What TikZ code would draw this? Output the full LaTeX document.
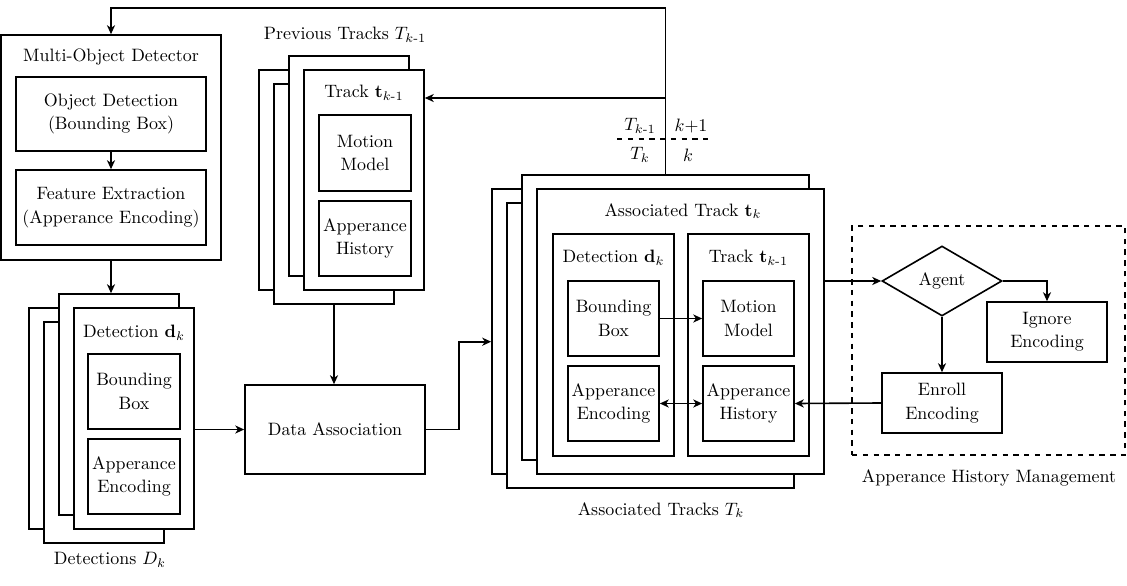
\documentclass[tikz,border=0pt]{standalone}
\usepackage{amsmath}
\usetikzlibrary{shapes.geometric,arrows.meta}

\begin{document}
\begin{tikzpicture}[x=0.0196cm, y=-0.0196cm, line width=0.9pt,
  >={Stealth[length=5pt,width=4.5pt,inset=1.5pt]},
  box/.style 2 args={draw, fill=white, align=center, inner sep=1pt,
    font=\setlength{\baselineskip}{13pt},
    minimum width=#1*0.0196cm, minimum height=#2*0.0196cm}]
\useasboundingbox (0,0) rectangle (1127,585);

\node[box={220}{225}] (mod) at (111,147.5) {};
\node (modtitle) at (111,57) {Multi-Object Detector};
\node[box={190}{74}] (objdet) at (111,114) {Object Detection\\(Bounding Box)};
\node[box={190}{75}] (featex) at (111,207.5) {Feature Extraction\\(Apperance Encoding)};
\draw[->] (objdet) -- (featex);

\node[box={120}{221}] (det1) at (89,418.5) {};
\node[box={120}{221}] (det2) at (104,432.5) {};
\node[box={120}{221}] (det3) at (119,404.5) {};
\node[box={120}{221}] (det) at (134,418.5) {};
\node (dettitle) at (134,333) {Detection $\mathbf{d}_k$};
\node[box={92}{75}] (dbox) at (134,391.5) {Bounding\\Box};
\node[box={92}{75}] (denc) at (134,476.5) {Apperance\\Encoding};
\node (detlabel) at (110,560) {Detections $D_k$};

\node (prevlabel) at (345,35) {Previous Tracks $T_{k\text{-}1}$};
\node[box={120}{220}] (prev1) at (319,180) {};
\node[box={120}{220}] (prev2) at (334,194) {};
\node[box={120}{220}] (prev3) at (349,166) {};
\node[box={120}{220}] (prev) at (364,180) {};
\node (prevtitle) at (364,93) {Track $\mathbf{t}_{k\text{-}1}$};
\node[box={92}{76}] (pmotion) at (365,153) {Motion\\Model};
\node[box={92}{75}] (phist) at (365,238.5) {Apperance\\History};

\node[box={180}{89}] (assoc) at (335,429.5) {Data Association};

\node[box={287}{285}] (asc1) at (635.5,331.5) {};
\node[box={287}{285}] (asc2) at (650.5,345.5) {};
\node[box={287}{285}] (asc3) at (665.5,317.5) {};
\node[box={287}{285}] (asc) at (680.5,331.5) {};
\node (asctitle) at (683,211) {Associated Track $\mathbf{t}_k$};
\node[box={121}{222}] (adet) at (613.5,345) {};
\node (adettitle) at (613.5,258) {Detection $\mathbf{d}_k$};
\node[box={121}{222}] (atrk) at (748.5,345) {};
\node (atrktitle) at (748.5,258) {Track $\mathbf{t}_{k\text{-}1}$};
\node[box={91}{75}] (abox) at (613.5,318.5) {Bounding\\Box};
\node[box={91}{75}] (aenc) at (613.5,403.5) {Apperance\\Encoding};
\node[box={91}{75}] (amotion) at (748.5,318.5) {Motion\\Model};
\node[box={91}{75}] (ahist) at (748.5,403.5) {Apperance\\History};
\node (asclabel) at (661,510) {Associated Tracks $T_k$};

\node[draw, dashed, minimum width=273*0.0196cm, minimum height=229*0.0196cm] (ahm) at (988.5,340.5) {};
\node (ahmlabel) at (989,478) {Apperance History Management};
\node[draw, diamond, aspect=1.7, inner sep=0pt, minimum width=120*0.0196cm, minimum height=70*0.0196cm] (agent) at (942,281) {Agent};
\node[box={120}{60}] (ignore) at (1047,332) {Ignore\\Encoding};
\node[box={120}{60}] (enroll) at (942,403) {Enroll\\Encoding};

\node (tprev) at (640,126) {$T_{k\text{-}1}$};
\node (knext) at (691,126) {$k{+}1$};
\node (tcur) at (640,155) {$T_k$};
\node (kcur) at (688,155) {$k$};
\draw[dashed] (617,139) -- (711,139);

\coordinate (loopturn) at (665.5,8);
\coordinate (split) at (665.5,98);
\draw[->] (asc3.north) -- (loopturn) -| (mod.north);
\draw[->] (split) -- (split -| prev.east);
\draw[->] (mod.south) -- (mod.south |- det3.north);
\draw[->] (det.east |- assoc.west) -- (assoc.west);
\draw[->] (prev2.south) -- (prev2.south |- assoc.north);
\draw[->] (assoc.east) -- ++(33,0) |- ([yshift=-0.2cm]asc1.west);
\draw[->] (abox) -- (amotion);
\draw[<->] (aenc) -- (ahist);
\draw[->] (agent.west -| asc.east) -- (agent.west);
\draw[->] (agent.east) -| (ignore.north);
\draw[->] (agent.south) -- (enroll.north);
\draw[->] (enroll.west) -- (ahist.east);
\end{tikzpicture}
\end{document}
